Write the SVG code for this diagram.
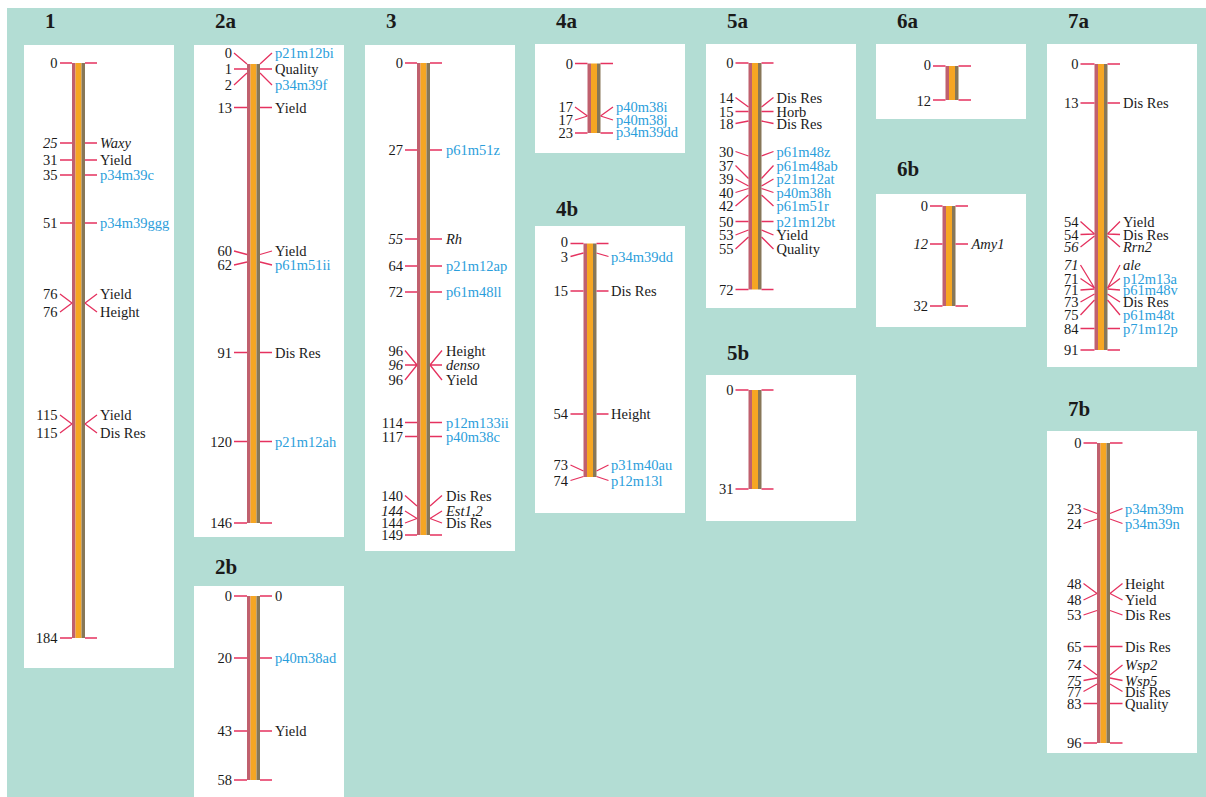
<svg xmlns="http://www.w3.org/2000/svg" width="1206" height="797" viewBox="0 0 1206 797">
<style>
.bg{fill:#b3ddd4}
.pn{fill:#ffffff}
.s1{fill:#c0606e}.s2{fill:#f6a623}.s3{fill:#877758}
.tk{fill:none;stroke:#e5325f;stroke-width:1.3}
text{font-family:"Liberation Serif","Times New Roman",serif;font-size:14.5px;fill:#1a1a1a}
.n{text-anchor:end}
.b{fill:#2b9edb}
.i{font-style:italic}
.ttl{font-size:21px;font-weight:bold}
</style>
<rect x="0" y="0" width="1206" height="797" fill="#ffffff"/>
<rect class="bg" x="7" y="8" width="1199" height="789"/>

<g id="chr1">
<rect class="pn" x="24" y="45" width="150" height="623"/>
<text class="ttl" x="45" y="28">1</text>
<rect class="s1" x="72" y="63" width="3.5" height="575"/><rect class="s2" x="75.5" y="63" width="6" height="575"/><rect class="s3" x="81.5" y="63" width="3.5" height="575"/>
<text class="n" x="57.5" y="68">0</text>
<text class="n i" x="57.5" y="148">25</text><text class="i" x="100" y="148">Waxy</text>
<text class="n" x="57.5" y="165">31</text><text x="100" y="165">Yield</text>
<text class="n" x="57.5" y="180">35</text><text class="b" x="100" y="180">p34m39c</text>
<text class="n" x="57.5" y="228">51</text><text class="b" x="100" y="228">p34m39ggg</text>
<text class="n" x="57.5" y="299">76</text><text x="100" y="299">Yield</text>
<text class="n" x="57.5" y="317">76</text><text x="100" y="317">Height</text>
<text class="n" x="57.5" y="420">115</text><text x="100" y="420">Yield</text>
<text class="n" x="57.5" y="438">115</text><text x="100" y="438">Dis Res</text>
<text class="n" x="57.5" y="643">184</text>
</g>

<g id="chr2a">
<rect class="pn" x="194" y="45" width="150" height="492"/>
<text class="ttl" x="215" y="28">2a</text>
<rect class="s1" x="247" y="64" width="3.5" height="459"/><rect class="s2" x="250.5" y="64" width="6" height="459"/><rect class="s3" x="256.5" y="64" width="3.5" height="459"/>
<text class="n" x="232" y="58">0</text><text class="b" x="275" y="58">p21m12bi</text>
<text class="n" x="232" y="74">1</text><text x="275" y="74">Quality</text>
<text class="n" x="232" y="90">2</text><text class="b" x="275" y="90">p34m39f</text>
<text class="n" x="232" y="112.5">13</text><text x="275" y="112.5">Yield</text>
<text class="n" x="232" y="256">60</text><text x="275" y="256">Yield</text>
<text class="n" x="232" y="270">62</text><text class="b" x="275" y="270">p61m51ii</text>
<text class="n" x="232" y="357.5">91</text><text x="275" y="357.5">Dis Res</text>
<text class="n" x="232" y="446.5">120</text><text class="b" x="275" y="446.5">p21m12ah</text>
<text class="n" x="232" y="528">146</text>
</g>

<g id="chr2b">
<rect class="pn" x="194" y="586" width="150" height="211"/>
<text class="ttl" x="215" y="574">2b</text>
<rect class="s1" x="247" y="596" width="3.5" height="184"/><rect class="s2" x="250.5" y="596" width="6" height="184"/><rect class="s3" x="256.5" y="596" width="3.5" height="184"/>
<text class="n" x="232" y="601">0</text><text x="275" y="601">0</text>
<text class="n" x="232" y="663">20</text><text class="b" x="275" y="663">p40m38ad</text>
<text class="n" x="232" y="736">43</text><text x="275" y="736">Yield</text>
<text class="n" x="232" y="785">58</text>
</g>

<g id="chr3">
<rect class="pn" x="365" y="45" width="150" height="506"/>
<text class="ttl" x="386" y="28">3</text>
<rect class="s1" x="417" y="63" width="3.5" height="472"/><rect class="s2" x="420.5" y="63" width="6" height="472"/><rect class="s3" x="426.5" y="63" width="3.5" height="472"/>
<text class="n" x="403" y="68">0</text>
<text class="n" x="403" y="155">27</text><text class="b" x="446" y="155">p61m51z</text>
<text class="n i" x="403" y="244">55</text><text class="i" x="446" y="244">Rh</text>
<text class="n" x="403" y="271">64</text><text class="b" x="446" y="271">p21m12ap</text>
<text class="n" x="403" y="297">72</text><text class="b" x="446" y="297">p61m48ll</text>
<text class="n" x="403" y="355.5">96</text><text x="446" y="355.5">Height</text>
<text class="n i" x="403" y="370">96</text><text class="i" x="446" y="370">denso</text>
<text class="n" x="403" y="385">96</text><text x="446" y="385">Yield</text>
<text class="n" x="403" y="427.5">114</text><text class="b" x="446" y="427.5">p12m133ii</text>
<text class="n" x="403" y="441.5">117</text><text class="b" x="446" y="441.5">p40m38c</text>
<text class="n" x="403" y="500.5">140</text><text x="446" y="500.5">Dis Res</text>
<text class="n i" x="403" y="516">144</text><text class="i" x="446" y="516">Est1,2</text>
<text class="n" x="403" y="528">144</text><text x="446" y="528">Dis Res</text>
<text class="n" x="403" y="540">149</text>
</g>

<g id="chr4a">
<rect class="pn" x="535" y="44" width="150" height="109"/>
<text class="ttl" x="556" y="28">4a</text>
<rect class="s1" x="587.5" y="63.5" width="3.5" height="69.5"/><rect class="s2" x="591" y="63.5" width="6" height="69.5"/><rect class="s3" x="597" y="63.5" width="3.5" height="69.5"/>
<text class="n" x="573" y="68.5">0</text>
<text class="n" x="573" y="112">17</text><text class="b" x="616" y="112">p40m38i</text>
<text class="n" x="573" y="125">17</text><text class="b" x="616" y="125">p40m38j</text>
<text class="n" x="573" y="138">23</text><text class="b" x="616" y="137">p34m39dd</text>
</g>

<g id="chr4b">
<rect class="pn" x="535" y="226" width="150" height="287"/>
<text class="ttl" x="556" y="216">4b</text>
<rect class="s1" x="583.5" y="243.5" width="3.5" height="233.5"/><rect class="s2" x="587" y="243.5" width="6" height="233.5"/><rect class="s3" x="593" y="243.5" width="3.5" height="233.5"/>
<text class="n" x="568" y="247">0</text>
<text class="n" x="568" y="261.5">3</text><text class="b" x="611" y="261.5">p34m39dd</text>
<text class="n" x="568" y="296">15</text><text x="611" y="296">Dis Res</text>
<text class="n" x="568" y="419">54</text><text x="611" y="419">Height</text>
<text class="n" x="568" y="470">73</text><text class="b" x="611" y="470">p31m40au</text>
<text class="n" x="568" y="485.5">74</text><text class="b" x="611" y="485.5">p12m13l</text>
</g>

<g id="chr5a">
<rect class="pn" x="706" y="44" width="150" height="264"/>
<text class="ttl" x="727" y="28">5a</text>
<rect class="s1" x="748.5" y="63" width="3.5" height="226.5"/><rect class="s2" x="752" y="63" width="6" height="226.5"/><rect class="s3" x="758" y="63" width="3.5" height="226.5"/>
<text class="n" x="733.5" y="68">0</text>
<text class="n" x="733.5" y="102.5">14</text><text x="776.5" y="102.5">Dis Res</text>
<text class="n" x="733.5" y="116.5">15</text><text x="776.5" y="116.5">Horb</text>
<text class="n" x="733.5" y="128.5">18</text><text x="776.5" y="128.5">Dis Res</text>
<text class="n" x="733.5" y="156.5">30</text><text class="b" x="776.5" y="156.5">p61m48z</text>
<text class="n" x="733.5" y="170.5">37</text><text class="b" x="776.5" y="170.5">p61m48ab</text>
<text class="n" x="733.5" y="184">39</text><text class="b" x="776.5" y="184">p21m12at</text>
<text class="n" x="733.5" y="197.5">40</text><text class="b" x="776.5" y="197.5">p40m38h</text>
<text class="n" x="733.5" y="211">42</text><text class="b" x="776.5" y="211">p61m51r</text>
<text class="n" x="733.5" y="226.5">50</text><text class="b" x="776.5" y="226.5">p21m12bt</text>
<text class="n" x="733.5" y="240">53</text><text x="776.5" y="240">Yield</text>
<text class="n" x="733.5" y="254">55</text><text x="776.5" y="254">Quality</text>
<text class="n" x="733.5" y="294.5">72</text>
</g>

<g id="chr5b">
<rect class="pn" x="706" y="375" width="150" height="146"/>
<text class="ttl" x="727" y="360">5b</text>
<rect class="s1" x="748.5" y="390" width="3.5" height="99"/><rect class="s2" x="752" y="390" width="6" height="99"/><rect class="s3" x="758" y="390" width="3.5" height="99"/>
<text class="n" x="733.5" y="395">0</text>
<text class="n" x="733.5" y="494">31</text>
</g>

<g id="chr6a">
<rect class="pn" x="876" y="44" width="150" height="75"/>
<text class="ttl" x="897" y="28">6a</text>
<rect class="s1" x="945.5" y="66" width="3.5" height="34"/><rect class="s2" x="949" y="66" width="6" height="34"/><rect class="s3" x="955" y="66" width="3.5" height="34"/>
<text class="n" x="931" y="70">0</text>
<text class="n" x="931" y="106">12</text>
</g>

<g id="chr6b">
<rect class="pn" x="876" y="194" width="150" height="133"/>
<text class="ttl" x="897" y="176">6b</text>
<rect class="s1" x="942.5" y="206" width="3.5" height="100"/><rect class="s2" x="946" y="206" width="6" height="100"/><rect class="s3" x="952" y="206" width="3.5" height="100"/>
<text class="n" x="928" y="211">0</text>
<text class="n i" x="928" y="249">12</text><text class="i" x="971.5" y="249">Amy1</text>
<text class="n" x="928" y="311">32</text>
</g>

<g id="chr7a">
<rect class="pn" x="1047" y="44" width="150" height="323"/>
<text class="ttl" x="1068" y="28">7a</text>
<rect class="s1" x="1094.5" y="64" width="3.5" height="286"/><rect class="s2" x="1098" y="64" width="6" height="286"/><rect class="s3" x="1104" y="64" width="3.5" height="286"/>
<text class="n" x="1078.5" y="69">0</text>
<text class="n" x="1078.5" y="108">13</text><text x="1123" y="108">Dis Res</text>
<text class="n" x="1078.5" y="226.5">54</text><text x="1123" y="226.5">Yield</text>
<text class="n" x="1078.5" y="239.5">54</text><text x="1123" y="239.5">Dis Res</text>
<text class="n i" x="1078.5" y="252">56</text><text class="i" x="1123" y="252">Rrn2</text>
<text class="n i" x="1078.5" y="270">71</text><text class="i" x="1123" y="270">ale</text>
<text class="n" x="1078.5" y="283.5">71</text><text class="b" x="1123" y="283.5">p12m13a</text>
<text class="n" x="1078.5" y="295">71</text><text class="b" x="1123" y="295">p61m48v</text>
<text class="n" x="1078.5" y="307">73</text><text x="1123" y="307">Dis Res</text>
<text class="n" x="1078.5" y="320">75</text><text class="b" x="1123" y="320">p61m48t</text>
<text class="n" x="1078.5" y="333.5">84</text><text class="b" x="1123" y="333.5">p71m12p</text>
<text class="n" x="1078.5" y="355">91</text>
</g>

<g id="chr7b">
<rect class="pn" x="1047" y="431" width="150" height="322"/>
<text class="ttl" x="1068" y="416">7b</text>
<rect class="s1" x="1097" y="443" width="3.5" height="300"/><rect class="s2" x="1100.5" y="443" width="6" height="300"/><rect class="s3" x="1106.5" y="443" width="3.5" height="300"/>
<text class="n" x="1081.5" y="448">0</text>
<text class="n" x="1081.5" y="513.5">23</text><text class="b" x="1125" y="513.5">p34m39m</text>
<text class="n" x="1081.5" y="528.5">24</text><text class="b" x="1125" y="528.5">p34m39n</text>
<text class="n" x="1081.5" y="588.5">48</text><text x="1125" y="588.5">Height</text>
<text class="n" x="1081.5" y="605">48</text><text x="1125" y="605">Yield</text>
<text class="n" x="1081.5" y="620">53</text><text x="1125" y="620">Dis Res</text>
<text class="n" x="1081.5" y="651.5">65</text><text x="1125" y="651.5">Dis Res</text>
<text class="n i" x="1081.5" y="670">74</text><text class="i" x="1125" y="670">Wsp2</text>
<text class="n i" x="1081.5" y="685.5">75</text><text class="i" x="1125" y="685.5">Wsp5</text>
<text class="n" x="1081.5" y="696.5">77</text><text x="1125" y="696.5">Dis Res</text>
<text class="n" x="1081.5" y="708.5">83</text><text x="1125" y="708.5">Quality</text>
<text class="n" x="1081.5" y="748">96</text>
</g>

<g id="connectors">
<path class="tk" d="M60 63H72M85 63H97M60 143H72M85 143H97M60 160H72M85 160H97M60 175H72M85 175H97M60 223H72M85 223H97M60 294L72 303M60 312L72 303M85 303L97 294M85 303L97 312M60 415L72 424M60 433L72 424M85 424L97 415M85 424L97 433M60 638H72M85 638H97"/>
<path class="tk" d="M234 53L247 64M260 64L272 53M234 69H247M260 69H272M234 85L247 73M260 73L272 85M234 107.5H247M260 107.5H272M234 251L247 254.5M260 254.5L272 251M234 265L247 262M260 262L272 265M234 352.5H247M260 352.5H272M234 441.5H247M260 441.5H272M234 523H247M260 523H272"/>
<path class="tk" d="M234 596H247M260 596H272M234 658H247M260 658H272M234 731H247M260 731H272M234 780H247M260 780H272"/>
<path class="tk" d="M405 63H417M430 63H442M405 150H417M430 150H442M405 239H417M430 239H442M405 266H417M430 266H442M405 292H417M430 292H442M405 350.5L417 365M405 365H417M405 380L417 365M430 365L442 350.5M430 365H442M430 365L442 380M405 422.5H417M430 422.5H442M405 436.5H417M430 436.5H442M405 495.5L417 506M430 506L442 495.5M405 511L417 518.5M430 518.5L442 511M405 523L417 518.5M430 518.5L442 523M405 535H417M430 535H442"/>
<path class="tk" d="M575 63.5H587.5M600.5 63.5H613M575 107L587.5 116M600.5 116L613 107M575 120L587.5 116M600.5 116L613 120M575 133H587.5M600.5 133H613"/>
<path class="tk" d="M570.5 243.5H583.5M596.5 243.5H608.5M570.5 256.5L583.5 253M596.5 253L608.5 256.5M570.5 291H583.5M596.5 291H608.5M570.5 414H583.5M596.5 414H608.5M570.5 465L583.5 471M596.5 471L608.5 465M570.5 480.5L583.5 476.5M596.5 476.5L608.5 480.5"/>
<path class="tk" d="M735.5 63H748.5M761.5 63H773.5M735.5 97.5L748.5 107M761.5 107L773.5 97.5M735.5 111.5H748.5M761.5 111.5H773.5M735.5 123.5L748.5 121M761.5 121L773.5 123.5M735.5 151.5L748.5 156M761.5 156L773.5 151.5M735.5 165.5L748.5 178.5M761.5 178.5L773.5 165.5M735.5 179L748.5 186M761.5 186L773.5 179M735.5 192.5L748.5 188.5M761.5 188.5L773.5 192.5M735.5 206L748.5 195M761.5 195L773.5 206M735.5 221.5H748.5M761.5 221.5H773.5M735.5 235L748.5 230M761.5 230L773.5 235M735.5 249L748.5 237M761.5 237L773.5 249M735.5 289.5H748.5M761.5 289.5H773.5"/>
<path class="tk" d="M735.5 390H748.5M761.5 390H773.5M735.5 489H748.5M761.5 489H773.5"/>
<path class="tk" d="M933 66H945.5M958.5 66H971M933 100H945.5M958.5 100H971"/>
<path class="tk" d="M930 206H942.5M955.5 206H968M930 244H942.5M955.5 244H968M930 306H942.5M955.5 306H968"/>
<path class="tk" d="M1080.5 64H1094.5M1107.5 64H1120M1080.5 103H1094.5M1107.5 103H1120M1080.5 221.5L1094.5 234M1107.5 234L1120 221.5M1080.5 234.5L1094.5 234M1107.5 234L1120 234.5M1080.5 247L1094.5 236M1107.5 236L1120 247M1080.5 265L1094.5 288M1107.5 288L1120 265M1080.5 278.5L1094.5 288M1107.5 288L1120 278.5M1080.5 290L1094.5 289M1107.5 289L1120 290M1080.5 302L1094.5 294M1107.5 294L1120 302M1080.5 315L1094.5 300M1107.5 300L1120 315M1080.5 328.5H1094.5M1107.5 328.5H1120M1080.5 350H1094.5M1107.5 350H1120"/>
<path class="tk" d="M1083.5 443H1097M1110 443H1122.5M1083.5 508.5L1097 513.5M1110 513.5L1122.5 508.5M1083.5 523.5L1097 519M1110 519L1122.5 523.5M1083.5 583.5L1097 593.5M1110 593.5L1122.5 583.5M1083.5 600L1097 593.5M1110 593.5L1122.5 600M1083.5 615L1097 610.5M1110 610.5L1122.5 615M1083.5 646.5H1097M1110 646.5H1122.5M1083.5 665L1097 675M1110 675L1122.5 665M1083.5 680.5L1097 678M1110 678L1122.5 680.5M1083.5 691.5L1097 684M1110 684L1122.5 691.5M1083.5 703.5H1097M1110 703.5H1122.5M1083.5 743H1097M1110 743H1122.5"/>
</g>
</svg>
